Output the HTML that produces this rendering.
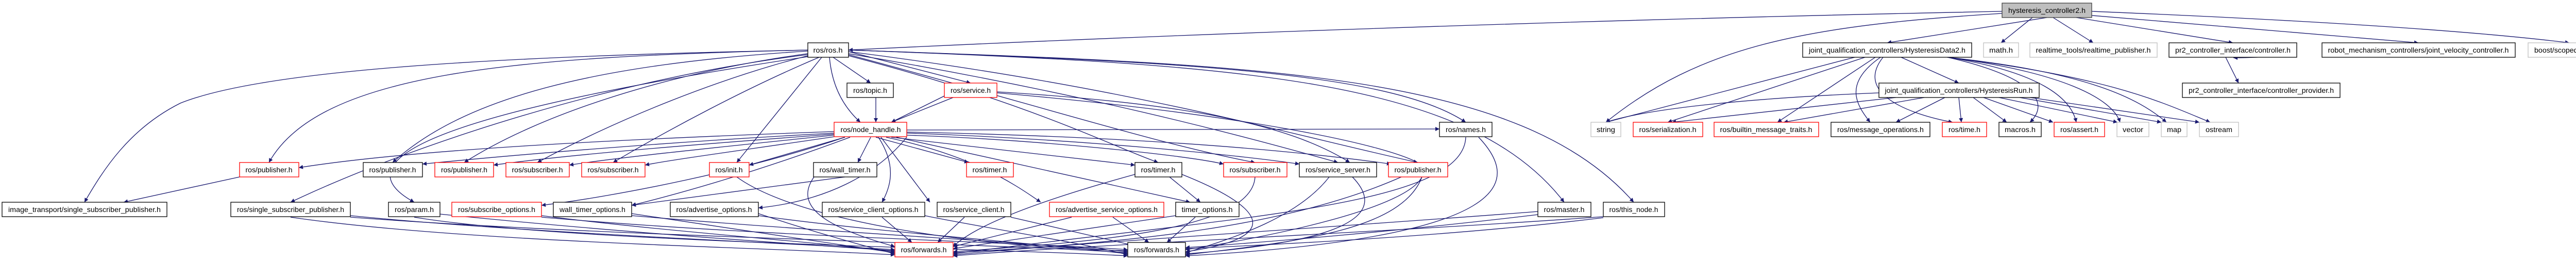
<!DOCTYPE html>
<html><head><meta charset="utf-8"><style>
html,body{margin:0;padding:0;background:#fff;}
svg{display:block;}
text{font-family:"Liberation Sans",sans-serif;font-size:14px;fill:#000;}
.e{stroke:#191970;stroke-width:1.3;fill:none;marker-end:url(#a);}
.k{fill:#fff;stroke:#000;stroke-width:1.3;}
.r{fill:#fff;stroke:#ff0000;stroke-width:1.3;}
.g{fill:#fff;stroke:#bfbfbf;stroke-width:1.3;}
</style></head><body>
<svg width="5072" height="504" viewBox="0 0 5072 504" xmlns="http://www.w3.org/2000/svg">
<defs><marker id="a" viewBox="0 0 10 10" refX="10" refY="5" markerWidth="9" markerHeight="8" markerUnits="userSpaceOnUse" orient="auto"><path d="M0,0 L10,5 L0,10 z" fill="#191970"/></marker></defs>
<g>
<!-- hysteresis edges -->
<path class="e" d="M3973,34 L3663,83"/>
<path class="e" d="M3945,34 L3884,83"/>
<path class="e" d="M3985,34 L4063,83"/>
<path class="e" d="M4030,34 L4334,83"/>
<path class="e" d="M4060,30 L4694,83"/>
<path class="e" d="M4060,22 C4500,40 4800,60 4987,83"/>
<path class="e" d="M3886,22 C3000,40 2200,70 1647,97"/>
<path class="e" d="M3886,26 C3500,50 3300,90 3117,237"/>
<!-- HD2 edges -->
<path class="e" d="M3690,111 L3802,161"/>
<path class="e" d="M3600,111 L3117,237"/>
<path class="e" d="M3620,111 L3237,237"/>
<path class="e" d="M3640,111 L3450,237"/>
<path class="e" d="M3650,111 C3580,160 3600,200 3630,237"/>
<path class="e" d="M3655,111 C3600,180 3700,220 3790,237"/>
<path class="e" d="M3780,111 C3950,150 3980,200 3940,237"/>
<path class="e" d="M3780,111 C3960,140 4020,190 4030,237"/>
<path class="e" d="M3780,111 C4000,140 4100,190 4115,237"/>
<path class="e" d="M3780,111 C4050,140 4150,190 4205,237"/>
<path class="e" d="M3780,111 C4100,150 4200,200 4290,237"/>
<!-- HRun edges -->
<path class="e" d="M3647,180 C3400,190 3200,210 3117,237"/>
<path class="e" d="M3680,189 L3245,237"/>
<path class="e" d="M3735,189 L3462,237"/>
<path class="e" d="M3775,189 L3680,237"/>
<path class="e" d="M3802,189 L3807,237"/>
<path class="e" d="M3830,189 L3895,237"/>
<path class="e" d="M3850,189 L3985,237"/>
<path class="e" d="M3880,189 L4110,237"/>
<path class="e" d="M3920,189 L4195,237"/>
<path class="e" d="M3940,189 L4269,237"/>
<!-- controller -->
<path class="e" d="M4320,111 L4345,161"/>
<path class="e" d="M4415,83 C4480,85 4480,112 4335,112"/>
<!-- ros.h edges -->
<path class="e" d="M1617,111 L1690,161"/>
<path class="e" d="M1647,100 L1884,161"/>
<path class="e" d="M1610,111 C1615,170 1640,210 1670,237"/>
<path class="e" d="M1647,97 C2300,120 2700,140 2845,237"/>
<path class="e" d="M1647,97 C2400,125 2850,150 3036,392"/>
<path class="e" d="M1647,97 C2450,125 2950,140 3171,392"/>
<path class="e" d="M1568,97 C1000,110 620,140 522,315"/>
<path class="e" d="M1568,99 C1150,125 900,190 762,315"/>
<path class="e" d="M1575,103 C1300,140 1050,220 901,315"/>
<path class="e" d="M1580,105 C1400,150 1200,230 1043,315"/>
<path class="e" d="M1590,111 C1450,170 1300,250 1190,315"/>
<path class="e" d="M1595,111 L1430,315"/>
<path class="e" d="M1568,97 C900,110 500,140 350,200 C250,250 200,330 164,392"/>
<path class="e" d="M1575,105 C1200,150 800,280 564,392"/>
<path class="e" d="M1580,108 C1100,180 600,280 804,392"/>
<path class="e" d="M1647,104 C2100,180 2400,260 2597,315"/>
<path class="e" d="M1647,100 C2200,170 2500,260 2752,315"/>
<path class="e" d="M1647,106 C2000,200 2250,280 2436,315"/>
<path class="e" d="M1647,108 C2000,200 2150,280 2248,315"/>
<!-- topic/service -->
<path class="e" d="M1700,189 L1700,237"/>
<path class="e" d="M1850,189 L1730,237"/>
<path class="e" d="M1833,186 L1730,237"/>
<path class="e" d="M1935,178 C2300,200 2500,240 2620,315"/>
<path class="e" d="M1935,180 C2400,220 2700,280 2760,320 C2800,400 2400,470 2301,484"/>
<!-- node_handle edges -->
<path class="e" d="M1619,255 C1200,270 800,290 580,325"/>
<path class="e" d="M1619,258 C1300,275 1000,300 820,318"/>
<path class="e" d="M1619,260 C1350,280 1100,300 958,320"/>
<path class="e" d="M1619,262 C1400,285 1200,305 1105,320"/>
<path class="e" d="M1619,265 C1450,290 1300,310 1252,320"/>
<path class="e" d="M1640,266 L1454,320"/>
<path class="e" d="M1690,266 L1665,315"/>
<path class="e" d="M1700,266 L1880,315"/>
<path class="e" d="M1730,266 L2203,320"/>
<path class="e" d="M1760,262 C2000,270 2300,300 2375,318"/>
<path class="e" d="M1760,258 C2100,270 2400,300 2522,318"/>
<path class="e" d="M1760,256 C2200,265 2500,290 2700,318"/>
<path class="e" d="M1640,266 C1450,330 1200,380 1051,398"/>
<path class="e" d="M1650,266 C1450,340 1300,380 1226,398"/>
<path class="e" d="M1760,266 C1700,340 1600,390 1472,403"/>
<path class="e" d="M1705,266 C1740,320 1730,360 1712,392"/>
<path class="e" d="M1710,266 L1805,392"/>
<path class="e" d="M1720,266 C1880,300 1960,350 2020,392"/>
<path class="e" d="M1740,266 L2310,392"/>
<path class="e" d="M1760,252 L2794,250"/>
<!-- row4 edges -->
<path class="e" d="M465,343 L240,392"/>
<path class="e" d="M1640,343 L1226,398"/>
<path class="e" d="M2270,343 L2330,392"/>
<path class="e" d="M2203,338 C2050,380 1900,430 1850,478"/>
<path class="e" d="M2294,338 C2450,400 2500,460 2301,488"/>
<path class="e" d="M1430,343 C1550,430 1900,480 2189,486"/>
<path class="e" d="M2436,343 C2430,450 2100,470 1850,488"/>
<path class="e" d="M2580,343 C2520,420 2400,460 2301,490"/>
<path class="e" d="M2625,343 C2700,420 2600,470 2301,492"/>
<path class="e" d="M2720,343 C2500,440 2200,470 1850,490"/>
<path class="e" d="M2760,343 C2720,450 2500,470 2301,494"/>
<path class="e" d="M2845,266 C2840,400 2400,420 1850,492"/>
<path class="e" d="M2870,266 C2950,350 2950,460 2301,496"/>
<path class="e" d="M1580,343 C1540,400 1600,440 1737,478"/>
<!-- row5 to forwards -->
<path class="e" d="M680,418 C1000,450 1500,470 1737,484"/>
<path class="e" d="M680,421 C1200,460 1900,470 2189,490"/>
<path class="e" d="M854,415 C1200,450 1500,470 1737,486"/>
<path class="e" d="M1051,418 C1300,450 1600,470 1737,488"/>
<path class="e" d="M1051,421 C1500,460 2000,470 2189,484"/>
<path class="e" d="M1226,414 C1400,440 1600,470 1737,490"/>
<path class="e" d="M1226,418 C1600,450 2000,470 2189,488"/>
<path class="e" d="M1472,414 C1550,440 1650,470 1737,492"/>
<path class="e" d="M1472,418 C1700,450 2000,470 2189,492"/>
<path class="e" d="M1712,421 L1770,470"/>
<path class="e" d="M1795,418 C1900,440 2100,470 2189,494"/>
<path class="e" d="M1872,421 L1820,470"/>
<path class="e" d="M1962,421 L2210,478"/>
<path class="e" d="M2080,421 L1850,478"/>
<path class="e" d="M2160,421 L2230,470"/>
<path class="e" d="M2282,418 L1850,482"/>
<path class="e" d="M2320,421 L2265,470"/>
<path class="e" d="M2985,410 C2600,440 2100,470 1850,494"/>
<path class="e" d="M2985,416 C2700,450 2450,470 2301,480"/>
<path class="e" d="M3112,420 C2700,450 2100,475 1850,496"/>
<path class="e" d="M3112,422 C2800,460 2450,475 2301,482"/>
<path class="e" d="M564,421 C900,470 1500,480 1737,494"/>
<path class="e" d="M804,421 C1100,470 1900,480 2189,496"/>
</g>
<g>
<rect x="3886" y="6" width="174" height="28" fill="#bfbfbf" stroke="#404040" stroke-width="1.3"/><text x="3973" y="25" text-anchor="middle" textLength="150" lengthAdjust="spacingAndGlyphs">hysteresis_controller2.h</text>
<rect class="k" x="1568" y="83" width="79" height="28"/><text x="1607" y="102" text-anchor="middle" textLength="57" lengthAdjust="spacingAndGlyphs">ros/ros.h</text>
<rect class="k" x="3499" y="83" width="328" height="28"/><text x="3663" y="102" text-anchor="middle" textLength="304" lengthAdjust="spacingAndGlyphs">joint_qualification_controllers/HysteresisData2.h</text>
<rect class="g" x="3850" y="83" width="68" height="28"/><text x="3884" y="102" text-anchor="middle" textLength="46" lengthAdjust="spacingAndGlyphs">math.h</text>
<rect class="g" x="3940" y="83" width="247" height="28"/><text x="4063" y="102" text-anchor="middle" textLength="223" lengthAdjust="spacingAndGlyphs">realtime_tools/realtime_publisher.h</text>
<rect class="k" x="4210" y="83" width="248" height="28"/><text x="4334" y="102" text-anchor="middle" textLength="224" lengthAdjust="spacingAndGlyphs">pr2_controller_interface/controller.h</text>
<rect class="k" x="4507" y="83" width="375" height="28"/><text x="4694" y="102" text-anchor="middle" textLength="351" lengthAdjust="spacingAndGlyphs">robot_mechanism_controllers/joint_velocity_controller.h</text>
<rect class="g" x="4907" y="83" width="160" height="28"/><text x="4987" y="102" text-anchor="middle" textLength="136" lengthAdjust="spacingAndGlyphs">boost/scoped_ptr.hpp</text>

<rect class="k" x="1644" y="161" width="90" height="28"/><text x="1689" y="180" text-anchor="middle" textLength="66" lengthAdjust="spacingAndGlyphs">ros/topic.h</text>
<rect class="r" x="1833" y="161" width="102" height="28"/><text x="1884" y="180" text-anchor="middle" textLength="78" lengthAdjust="spacingAndGlyphs">ros/service.h</text>
<rect class="k" x="3647" y="161" width="311" height="28"/><text x="3802" y="180" text-anchor="middle" textLength="287" lengthAdjust="spacingAndGlyphs">joint_qualification_controllers/HysteresisRun.h</text>
<rect class="k" x="4236" y="161" width="306" height="28"/><text x="4389" y="180" text-anchor="middle" textLength="282" lengthAdjust="spacingAndGlyphs">pr2_controller_interface/controller_provider.h</text>

<rect class="r" x="1619" y="237" width="141" height="28"/><text x="1690" y="256" text-anchor="middle" textLength="117" lengthAdjust="spacingAndGlyphs">ros/node_handle.h</text>
<rect class="k" x="2794" y="237" width="102" height="28"/><text x="2845" y="256" text-anchor="middle" textLength="78" lengthAdjust="spacingAndGlyphs">ros/names.h</text>
<rect class="g" x="3088" y="237" width="58" height="28"/><text x="3117" y="256" text-anchor="middle" textLength="36" lengthAdjust="spacingAndGlyphs">string</text>
<rect class="r" x="3170" y="237" width="135" height="28"/><text x="3237" y="256" text-anchor="middle" textLength="111" lengthAdjust="spacingAndGlyphs">ros/serialization.h</text>
<rect class="r" x="3327" y="237" width="203" height="28"/><text x="3428" y="256" text-anchor="middle" textLength="179" lengthAdjust="spacingAndGlyphs">ros/builtin_message_traits.h</text>
<rect class="k" x="3554" y="237" width="192" height="28"/><text x="3650" y="256" text-anchor="middle" textLength="168" lengthAdjust="spacingAndGlyphs">ros/message_operations.h</text>
<rect class="r" x="3770" y="237" width="86" height="28"/><text x="3813" y="256" text-anchor="middle" textLength="62" lengthAdjust="spacingAndGlyphs">ros/time.h</text>
<rect class="k" x="3880" y="237" width="82" height="28"/><text x="3921" y="256" text-anchor="middle" textLength="60" lengthAdjust="spacingAndGlyphs">macros.h</text>
<rect class="r" x="3987" y="237" width="98" height="28"/><text x="4036" y="256" text-anchor="middle" textLength="74" lengthAdjust="spacingAndGlyphs">ros/assert.h</text>
<rect class="g" x="4109" y="237" width="62" height="28"/><text x="4140" y="256" text-anchor="middle" textLength="40" lengthAdjust="spacingAndGlyphs">vector</text>
<rect class="g" x="4195" y="237" width="50" height="28"/><text x="4220" y="256" text-anchor="middle" textLength="28" lengthAdjust="spacingAndGlyphs">map</text>
<rect class="g" x="4269" y="237" width="76" height="28"/><text x="4307" y="256" text-anchor="middle" textLength="52" lengthAdjust="spacingAndGlyphs">ostream</text>

<rect class="r" x="465" y="315" width="115" height="28"/><text x="522" y="334" text-anchor="middle" textLength="91" lengthAdjust="spacingAndGlyphs">ros/publisher.h</text>
<rect class="k" x="705" y="315" width="115" height="28"/><text x="762" y="334" text-anchor="middle" textLength="91" lengthAdjust="spacingAndGlyphs">ros/publisher.h</text>
<rect class="r" x="844" y="315" width="114" height="28"/><text x="901" y="334" text-anchor="middle" textLength="90" lengthAdjust="spacingAndGlyphs">ros/publisher.h</text>
<rect class="r" x="982" y="315" width="123" height="28"/><text x="1043" y="334" text-anchor="middle" textLength="99" lengthAdjust="spacingAndGlyphs">ros/subscriber.h</text>
<rect class="r" x="1129" y="315" width="123" height="28"/><text x="1190" y="334" text-anchor="middle" textLength="99" lengthAdjust="spacingAndGlyphs">ros/subscriber.h</text>
<rect class="r" x="1377" y="315" width="77" height="28"/><text x="1415" y="334" text-anchor="middle" textLength="53" lengthAdjust="spacingAndGlyphs">ros/init.h</text>
<rect class="k" x="1579" y="315" width="123" height="28"/><text x="1640" y="334" text-anchor="middle" textLength="99" lengthAdjust="spacingAndGlyphs">ros/wall_timer.h</text>
<rect class="r" x="1876" y="315" width="91" height="28"/><text x="1921" y="334" text-anchor="middle" textLength="67" lengthAdjust="spacingAndGlyphs">ros/timer.h</text>
<rect class="k" x="2203" y="315" width="91" height="28"/><text x="2248" y="334" text-anchor="middle" textLength="67" lengthAdjust="spacingAndGlyphs">ros/timer.h</text>
<rect class="r" x="2375" y="315" width="123" height="28"/><text x="2436" y="334" text-anchor="middle" textLength="99" lengthAdjust="spacingAndGlyphs">ros/subscriber.h</text>
<rect class="k" x="2522" y="315" width="150" height="28"/><text x="2597" y="334" text-anchor="middle" textLength="126" lengthAdjust="spacingAndGlyphs">ros/service_server.h</text>
<rect class="r" x="2695" y="315" width="115" height="28"/><text x="2752" y="334" text-anchor="middle" textLength="91" lengthAdjust="spacingAndGlyphs">ros/publisher.h</text>

<rect class="k" x="4" y="392" width="320" height="28"/><text x="164" y="411" text-anchor="middle" textLength="296" lengthAdjust="spacingAndGlyphs">image_transport/single_subscriber_publisher.h</text>
<rect class="k" x="448" y="392" width="232" height="28"/><text x="564" y="411" text-anchor="middle" textLength="208" lengthAdjust="spacingAndGlyphs">ros/single_subscriber_publisher.h</text>
<rect class="k" x="754" y="392" width="100" height="28"/><text x="804" y="411" text-anchor="middle" textLength="76" lengthAdjust="spacingAndGlyphs">ros/param.h</text>
<rect class="r" x="877" y="392" width="174" height="28"/><text x="964" y="411" text-anchor="middle" textLength="150" lengthAdjust="spacingAndGlyphs">ros/subscribe_options.h</text>
<rect class="k" x="1074" y="392" width="152" height="28"/><text x="1150" y="411" text-anchor="middle" textLength="128" lengthAdjust="spacingAndGlyphs">wall_timer_options.h</text>
<rect class="k" x="1301" y="392" width="171" height="28"/><text x="1386" y="411" text-anchor="middle" textLength="147" lengthAdjust="spacingAndGlyphs">ros/advertise_options.h</text>
<rect class="k" x="1596" y="392" width="199" height="28"/><text x="1695" y="411" text-anchor="middle" textLength="175" lengthAdjust="spacingAndGlyphs">ros/service_client_options.h</text>
<rect class="k" x="1819" y="392" width="143" height="28"/><text x="1890" y="411" text-anchor="middle" textLength="119" lengthAdjust="spacingAndGlyphs">ros/service_client.h</text>
<rect class="r" x="2037" y="392" width="222" height="28"/><text x="2148" y="411" text-anchor="middle" textLength="198" lengthAdjust="spacingAndGlyphs">ros/advertise_service_options.h</text>
<rect class="k" x="2282" y="392" width="123" height="28"/><text x="2343" y="411" text-anchor="middle" textLength="99" lengthAdjust="spacingAndGlyphs">timer_options.h</text>
<rect class="k" x="2985" y="392" width="103" height="28"/><text x="3036" y="411" text-anchor="middle" textLength="79" lengthAdjust="spacingAndGlyphs">ros/master.h</text>
<rect class="k" x="3112" y="392" width="119" height="28"/><text x="3171" y="411" text-anchor="middle" textLength="95" lengthAdjust="spacingAndGlyphs">ros/this_node.h</text>

<rect class="r" x="1737" y="470" width="113" height="28"/><text x="1793" y="489" text-anchor="middle" textLength="89" lengthAdjust="spacingAndGlyphs">ros/forwards.h</text>
<rect class="k" x="2189" y="470" width="112" height="28"/><text x="2245" y="489" text-anchor="middle" textLength="88" lengthAdjust="spacingAndGlyphs">ros/forwards.h</text>
</g>
</svg>
</body></html>
